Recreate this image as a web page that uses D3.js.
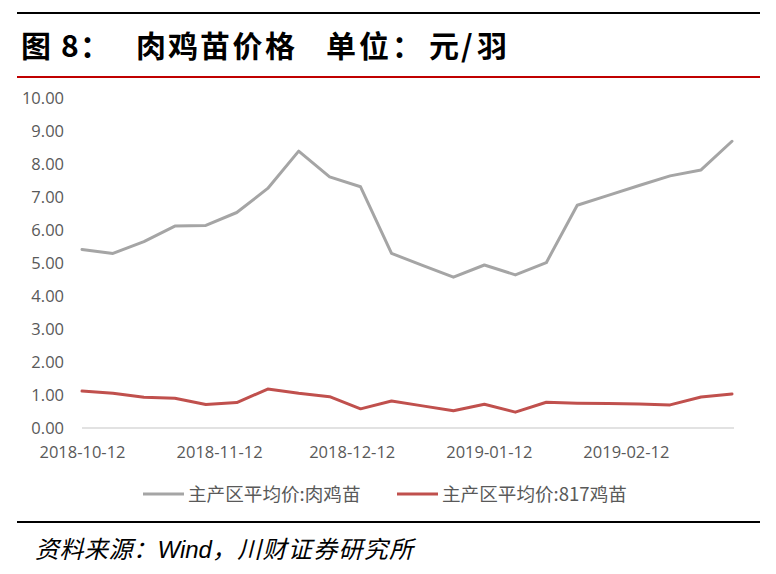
<!DOCTYPE html>
<html><head><meta charset="utf-8">
<script src="https://cdn.jsdelivr.net/npm/d3@7/dist/d3.min.js"></script>
<style>body{margin:0;background:#fff}svg{display:block}</style>
</head><body>
<svg id="c" width="776" height="574"></svg>
<script>
const dates = ["2018-10-12","2018-10-19","2018-10-26","2018-11-02","2018-11-09","2018-11-16","2018-11-23","2018-11-30","2018-12-07","2018-12-14","2018-12-21","2018-12-28","2019-01-04","2019-01-11","2019-01-18","2019-01-25","2019-02-01","2019-02-08","2019-02-15","2019-02-22","2019-03-01","2019-03-08"];
const broiler = [5.41,5.29,5.65,6.12,6.14,6.53,7.26,8.39,7.61,7.31,5.29,4.93,4.57,4.94,4.64,5.01,6.75,7.05,7.35,7.64,7.82,8.69];
const chick817 = [1.12,1.05,0.93,0.90,0.71,0.77,1.18,1.05,0.95,0.58,0.82,0.67,0.52,0.72,0.48,0.78,0.75,0.74,0.73,0.70,0.94,1.03];
const yTicks = [0,1,2,3,4,5,6,7,8,9,10];
const xTickLabels = ["2018-10-12","2018-11-12","2018-12-12","2019-01-12","2019-02-12"];
const seriesNames = ["主产区平均价:肉鸡苗","主产区平均价:817鸡苗"];
const colors = ["#A5A5A5","#C0504D"];

const parse = d3.timeParse("%Y-%m-%d");
const svg = d3.select("#c");
const font = "'Open Sans','Noto Sans','DejaVu Sans',sans-serif";
const cjk = "'Noto Sans CJK SC','Noto Sans',sans-serif";

// frame lines
svg.append("line").attr("x1",17).attr("x2",760).attr("y1",13).attr("y2",13).attr("stroke","#000").attr("stroke-width",2.2);
svg.append("line").attr("x1",17).attr("x2",760).attr("y1",77).attr("y2",77).attr("stroke","#C00000").attr("stroke-width",2.2);
svg.append("line").attr("x1",17).attr("x2",760).attr("y1",522).attr("y2",522).attr("stroke","#000").attr("stroke-width",2.2);

// title
const title = svg.append("text").attr("y",57).attr("font-family",cjk).attr("font-weight","bold").attr("font-size",30).attr("fill","#000");
[["图",21],["8",61],["：",80],["肉",136],["鸡",168],["苗",200],["价",232.5],["格",265],["单",326],["位",359],["：",392],["元",429],["/",461],["羽",477]]
  .forEach(([t,px])=>title.append("tspan").attr("x",px).text(t));

// source
const src = svg.append("text").attr("x",35).attr("y",558).attr("font-style","italic").attr("font-size",24).attr("fill","#000");
src.append("tspan").attr("font-family",cjk).attr("letter-spacing",0.5).text("资料来源：");
src.append("tspan").attr("font-family","'Liberation Sans',Arial,sans-serif").text("Wind");
src.append("tspan").attr("font-family",cjk).attr("letter-spacing",1.3).text("，川财证券研究所");

const x = d3.scaleTime().domain([parse(dates[0]), parse(dates[dates.length-1])]).range([82,732]);
const y = d3.scaleLinear().domain([0,10]).range([428,98]);

// baseline
svg.append("line").attr("x1",82).attr("x2",734).attr("y1",y(0)).attr("y2",y(0)).attr("stroke","#D9D9D9").attr("stroke-width",1.3);

// y axis
const yAxis = d3.axisLeft(y).tickValues(yTicks).tickFormat(d3.format(".2f")).tickSize(0).tickPadding(0);
const gy = svg.append("g").attr("transform","translate(64,0)").call(yAxis);
gy.select(".domain").remove();
gy.selectAll("text").attr("font-family",font).attr("font-size",16.5).attr("fill","#595959").attr("dy","0.36em");

// x axis
const xAxis = d3.axisBottom(x).tickValues(xTickLabels.map(parse)).tickFormat(d3.timeFormat("%Y-%m-%d")).tickSize(0).tickPadding(0);
const gx = svg.append("g").attr("transform","translate(0,458)").call(xAxis);
gx.select(".domain").remove();
gx.selectAll("text").attr("font-family",font).attr("font-size",16.5).attr("fill","#595959").attr("dy",0);

// lines
const line = d3.line().x((d,i)=>x(parse(dates[i]))).y(d=>y(d));
[broiler, chick817].forEach((s,k)=>{
  svg.append("path").datum(s).attr("d",line).attr("fill","none").attr("stroke",colors[k]).attr("stroke-width",3).attr("stroke-linejoin","round").attr("stroke-linecap","round");
});

// legend
const legX = [143, 397];
seriesNames.forEach((n,k)=>{
  svg.append("line").attr("x1",legX[k]).attr("x2",legX[k]+41).attr("y1",494).attr("y2",494).attr("stroke",colors[k]).attr("stroke-width",3.2);
  svg.append("text").attr("x",legX[k]+45).attr("y",494).attr("dy","0.36em").attr("font-family",cjk).attr("font-size",18.6).attr("fill","#595959").text(n);
});
</script>
</body></html>
